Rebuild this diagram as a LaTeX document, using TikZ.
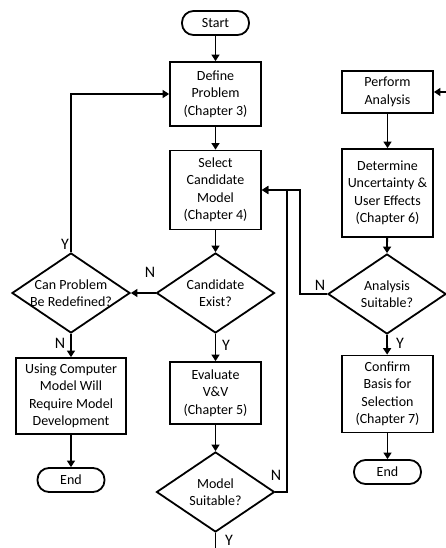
\documentclass[tikz,border=0pt]{standalone}
\usepackage{fontspec}
\setmainfont{Carlito}
\usetikzlibrary{shapes.geometric,arrows.meta}
\begin{document}
\begin{tikzpicture}[x=1pt,y=-1pt,
  every node/.style={font=\fontsize{14}{17.5}\selectfont},
  box/.style={draw, line width=1.8pt, align=center, inner sep=0pt},
  term/.style={draw, line width=1.8pt, rounded corners=11.5pt, minimum width=67pt, minimum height=24pt, inner sep=0pt},
  dec/.style={draw, diamond, line width=1.8pt, minimum width=118pt, minimum height=80pt, inner sep=0pt},
  txt/.style={align=center, inner sep=0pt},
  lbl/.style={inner sep=0pt, font=\fontsize{16}{18}\selectfont},
  arr/.style={line width=1.8pt, -{Triangle[length=6.5pt,width=8pt]}},
  ln/.style={line width=1.8pt}]
\useasboundingbox (0,0) rectangle (446,548);
% central column
\node[term] (start) at (215.5,23) {Start};
\node[box, minimum width=91pt, minimum height=64pt] (def) at (215.5,94) {Define\\Problem\\(Chapter 3)};
\node[box, minimum width=91pt, minimum height=79pt] (sel) at (215.5,190) {Select\\Candidate\\Model\\(Chapter 4)};
\node[dec] (ce) at (215.5,293) {};
\node[txt] (cet) at (ce) {Candidate\\Exist?};
\node[box, minimum width=91pt, minimum height=62pt] (ev) at (215.5,393) {Evaluate\\V\&V\\(Chapter 5)};
\node[dec] (ms) at (215.5,492) {};
\node[txt] (mst) at (ms) {Model\\Suitable?};
\coordinate (exit) at (215.5,548);
% left column
\node[dec] (cp) at (71,293) {};
\node[txt] (cpt) at (cp) {Can Problem\\Be Redefined?};
\node[box, minimum width=110pt, minimum height=76pt] (uc) at (71,396) {Using Computer\\Model Will\\Require Model\\Development};
\node[term] (end1) at (71,480) {End};
% right column
\node[box, minimum width=91pt, minimum height=42pt] (pa) at (387.5,92) {Perform\\Analysis};
\node[box, minimum width=91pt, minimum height=88pt] (du) at (387.5,193) {Determine\\Uncertainty \&\\User Effects\\(Chapter 6)};
\node[dec] (as) at (387,294) {};
\node[txt] (ast) at (as) {Analysis\\Suitable?};
\node[box, minimum width=91pt, minimum height=77pt] (cb) at (387.5,394) {Confirm\\Basis for\\Selection\\(Chapter 7)};
\node[term] (end2) at (387.5,472) {End};
\coordinate (inR) at (446,92);
\coordinate (j1) at (287,190);
\coordinate (j2) at (300,190);
% connectors
\draw[arr] (start) -- (def);
\draw[arr] (def) -- (sel);
\draw[arr] (sel) -- (ce.north);
\draw[arr] (ce.west) -- (cp.east);
\draw[arr] (cp.north) |- (def.west);
\draw[arr] (cp.south) -- (uc);
\draw[arr] (uc) -- (end1);
\draw[arr] (ce.south) -- (ev);
\draw[arr] (ev) -- (ms.north);
\draw[ln] (ms.south) -- (exit);
\draw[arr] (ms.east) -| (j1) -- (sel.east);
\draw[arr] (as.west) -| (j2) -- (sel.east);
\draw[arr] (inR) -- (pa.east);
\draw[arr] (pa) -- (du);
\draw[arr] (du) -- (as.north);
\draw[arr] (as.south) -- (cb);
\draw[arr] (cb) -- (end2);
% labels
\node[lbl] (l1) at (150,272) {N};
\node[lbl] (l2) at (65,244) {Y};
\node[lbl] (l3) at (60,343) {N};
\node[lbl] (l4) at (226,345) {Y};
\node[lbl] (l5) at (229,540) {Y};
\node[lbl] (l6) at (276,475) {N};
\node[lbl] (l7) at (320,285) {N};
\node[lbl] (l8) at (400,343) {Y};
\end{tikzpicture}
\end{document}
